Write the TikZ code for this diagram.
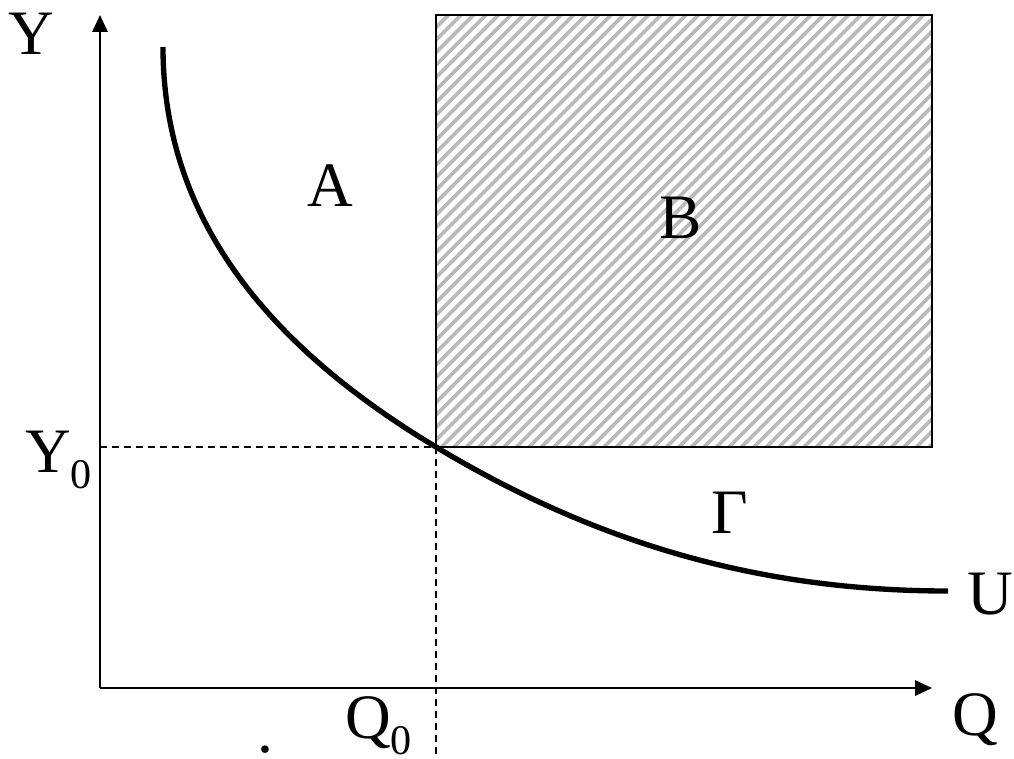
\documentclass[tikz,border=0pt]{standalone}
\usepackage{fontspec}
\setmainfont{Liberation Serif}
\usetikzlibrary{arrows.meta}

\newcommand{\sub}[1]{\raisebox{-0.4cm}{\fontsize{30}{30}\selectfont #1}}

\begin{document}
\begin{tikzpicture}[
  x=0.025cm, y=-0.025cm,
  font=\fontsize{45}{50}\selectfont,
  axis/.style={line width=1.4pt, -{Triangle[length=0.42cm, width=0.38cm]}},
  guide/.style={line width=1pt, dash pattern=on 0.18cm off 0.12cm},
  hatch/.style={draw=gray!55, line width=2.6pt},
  box/.style={draw=black, line width=1.4pt},
  utility/.style={line width=3.8pt},
  lbl/.style={inner sep=0pt},
]
\useasboundingbox (0,0) rectangle (1014,758);

% axes
\coordinate (O) at (100,688);
\coordinate (ytop) at (100,15);
\coordinate (xend) at (932,688);
\draw[axis] (O) -- (ytop);
\draw[axis] (O) -- (xend);

% hatched region B
\begin{scope}
  \clip (436,15) rectangle (932,447);
  \foreach \s in {4,16.5,...,940}
    \draw[hatch] (\s,447) -- ++(432,-432);
\end{scope}
\draw[box] (436,15) rectangle (932,447);

% reference point
\coordinate (P) at (436,447);
\coordinate (Py) at (100,447);
\coordinate (Pq) at (436,758);
\draw[guide] (Py) -- (P);
\draw[guide] (P) -- (Pq);

% indifference curve
\coordinate (Ustart) at (163,47);
\coordinate (Uend) at (948,591);
\draw[utility] (Ustart) .. controls (163,217) and (266,345) .. (P)
  .. controls (586,537) and (748,591) .. (Uend);

% labels
\node[lbl] (labY) at (31,34) {Y};
\node[lbl, anchor=base west] (labY0) at (25,472) {Y\sub{0}};
\node[lbl] (labA) at (330,186) {A};
\node[lbl] (labB) at (681,218) {B};
\node[lbl] (labG) at (730,513) {Γ};
\node[lbl] (labU) at (990,594) {U};
\node[lbl] (labQ) at (975,720) {Q};
\node[lbl, anchor=base west] (labQ0) at (345,738) {Q\sub{0}};
\node[lbl, anchor=base west] (dot) at (257,752) {.};
\end{tikzpicture}
\end{document}
